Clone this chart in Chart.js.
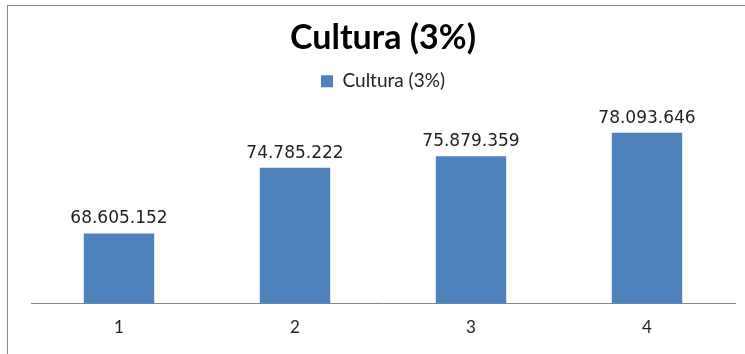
<!DOCTYPE html>
<html>
<head>
<meta charset="utf-8">
<script src="https://cdn.jsdelivr.net/npm/chart.js@4.4.0/dist/chart.umd.min.js"></script>
<style>
  html, body { margin: 0; padding: 0; background: #fff; }
  #wrap { position: relative; width: 745px; height: 354px; overflow: hidden; }
  #frame { position: absolute; left: 7px; top: 5px; width: 800px; height: 400px; border: 1px solid #868686; }
  #cv { position: absolute; left: 0; top: 0; }
</style>
</head>
<body>
<div id="wrap">
  <div id="frame"></div>
  <canvas id="cv" width="745" height="354"></canvas>
</div>
<script>
// dados
const categorias = ['1', '2', '3', '4'];
const valores = [68605152, 74785222, 75879359, 78093646];
const serieNome = 'Cultura (3%)';

// rótulos de dados por cima das barras
const rotulos = {
  id: 'rotulos',
  afterDatasetsDraw(chart) {
    const ctx = chart.ctx;
    const meta = chart.getDatasetMeta(0);
    ctx.save();
    ctx.font = '17px "DejaVu Sans"';
    ctx.fillStyle = '#222';
    ctx.textAlign = 'center';
    ctx.textBaseline = 'bottom';
    meta.data.forEach((bar, i) => {
      const txt = valores[i].toLocaleString('de-DE');
      ctx.fillText(txt, bar.x, bar.y - 6);
    });
    ctx.restore();
  }
};

const ctx = document.getElementById('cv').getContext('2d');
new Chart(ctx, {
  type: 'bar',
  data: {
    labels: categorias,
    datasets: [{
      label: serieNome,
      data: valores,
      backgroundColor: '#4F81BD',
      borderColor: '#4F81BD',
      borderWidth: 0,
      barPercentage: 0.4,
      categoryPercentage: 1
    }]
  },
  options: {
    responsive: false,
    animation: false,
    layout: { padding: { left: 31, right: 10, top: 0, bottom: 2 } },
    plugins: {
      title: {
        display: true,
        text: serieNome,
        color: '#000',
        font: { family: 'Lato', size: 34, weight: 'bold' },
        padding: { top: 18, bottom: 5 }
      },
      legend: {
        display: true,
        labels: {
          color: '#222',
          font: { family: 'Lato', size: 19 },
          boxWidth: 12,
          boxHeight: 12,
          padding: 8
        }
      },
      tooltip: { enabled: false }
    },
    scales: {
      x: {
        grid: { display: false, drawTicks: false },
        border: { display: true, color: '#868686', width: 1 },
        ticks: { color: '#222', font: { family: 'Lato', size: 17 }, padding: 14 }
      },
      y: {
        display: false,
        min: 62000000,
        max: 81100000
      }
    }
  },
  plugins: [rotulos]
});
</script>
</body>
</html>
